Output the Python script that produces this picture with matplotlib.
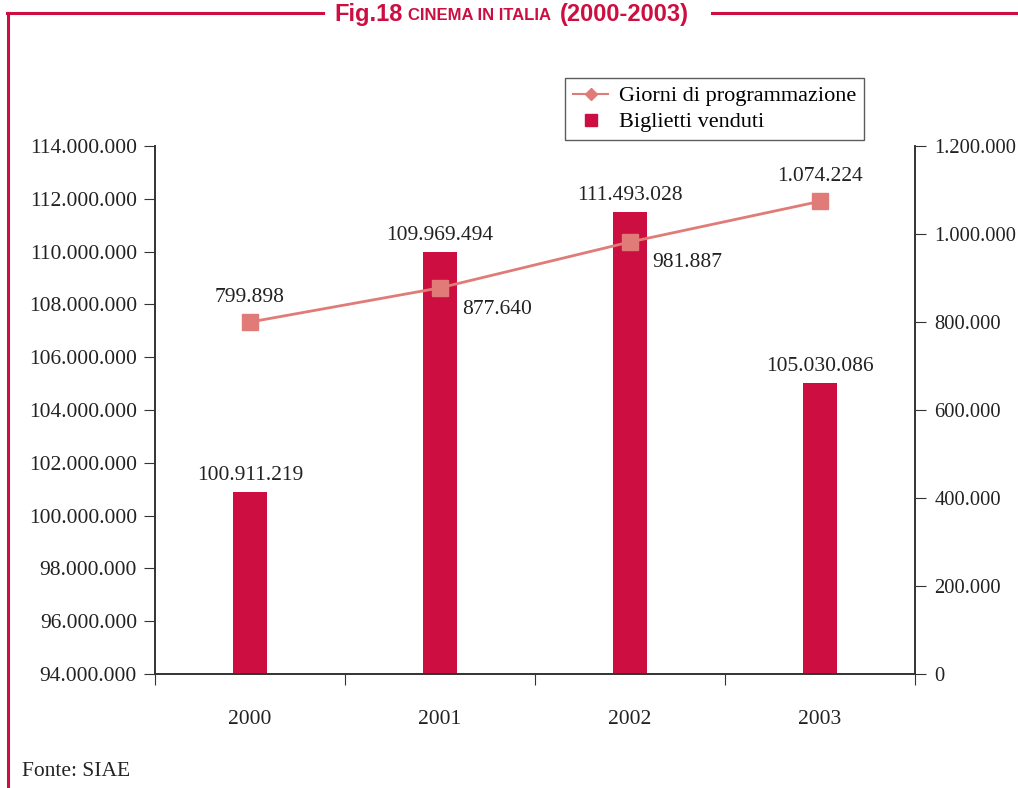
import matplotlib.pyplot as plt
from matplotlib.lines import Line2D
from matplotlib.ticker import FuncFormatter

# Data
anni = ["2000", "2001", "2002", "2003"]
biglietti = [100911219, 109969494, 111493028, 105030086]
giorni = [799898, 877640, 981887, 1074224]

bar_color = "#CC0E40"
line_color = "#E07B77"
frame_color = "#CC0E40"
serif = ["Liberation Serif", "DejaVu Serif"]
W, H = 1018, 788


def dotted(v, pos=None):
    return f"{int(round(v)):,}".replace(",", ".")


plt.rcParams["font.family"] = serif
fig = plt.figure(figsize=(W / 100, H / 100), dpi=100)
ax = fig.add_axes([155 / W, 1 - 674 / H, 760 / W, 528 / H])
ax2 = ax.twinx()

x = list(range(len(anni)))
ax.bar(x, biglietti, width=0.18, color=bar_color, zorder=2)
ax.set_xlim(-0.5, 3.5)
ax.set_ylim(94000000, 114000000)
ax.set_yticks(range(94000000, 114000001, 2000000))
ax.yaxis.set_major_formatter(FuncFormatter(dotted))
ax.set_xticks([-0.5, 0.5, 1.5, 2.5, 3.5])
ax.set_xticklabels([])
ax.set_xticks(x, minor=True)
ax.set_xticklabels(anni, minor=True)
ax.tick_params(axis="x", which="minor", length=0, pad=26, labelsize=15.5, colors="#222")
ax.tick_params(axis="x", which="major", length=8, direction="out", color="#333")
ax.tick_params(axis="y", length=8, direction="out", labelsize=15.5, colors="#222", color="#333", pad=5)

ax2.plot(x, giorni, color=line_color, lw=2, marker="s", ms=11, zorder=3)
ax2.set_ylim(0, 1200000)
ax2.set_yticks(range(0, 1200001, 200000))
ax2.yaxis.set_major_formatter(FuncFormatter(dotted))
ax2.tick_params(axis="y", length=8, direction="out", labelsize=14.8, colors="#222", color="#333", pad=6)

for a in (ax, ax2):
    a.spines["top"].set_visible(False)
    for s in ("left", "right", "bottom"):
        a.spines[s].set_color("#333")
        a.spines[s].set_linewidth(1.2)

# bar labels
for xi, v in zip(x, biglietti):
    ax.annotate(dotted(v), (xi, v), xytext=(0, 5), textcoords="offset points",
                ha="center", va="bottom", fontsize=15.5, color="#222")

# line labels
offsets = [(0, 11, "center", "bottom"), (16, -9, "left", "top"),
           (16, -8, "left", "top"), (0, 11, "center", "bottom")]
for xi, v, (dx, dy, ha, va) in zip(x, giorni, offsets):
    ax2.annotate(dotted(v), (xi, v), xytext=(dx, dy), textcoords="offset points",
                 ha=ha, va=va, fontsize=15.5, color="#222")

handles = [Line2D([], [], color=line_color, lw=1.5, marker="D", ms=6),
           Line2D([], [], color=bar_color, lw=0, marker="s", ms=8)]
leg = ax2.legend(handles, ["Giorni di programmazione", "Biglietti venduti"],
                 loc="upper left", bbox_to_anchor=(410 / 760, 1 + 68 / 528), fontsize=16,
                 frameon=True, fancybox=False, edgecolor="#333", handlelength=1.6,
                 handletextpad=0.5, borderpad=0.35, labelspacing=0.25, borderaxespad=0)
leg.get_frame().set_linewidth(1.0)

# frame lines
ly = 1 - 13 / H
fig.add_artist(Line2D([8 / W, 8 / W], [0.0, ly], color=frame_color, lw=2.2))
fig.add_artist(Line2D([7 / W, 323 / W], [ly, ly], color=frame_color, lw=2.2))
fig.add_artist(Line2D([712 / W, 1.0], [ly, ly], color=frame_color, lw=2.2))

# title pieces
title_font = ["Liberation Sans Narrow", "Liberation Sans", "DejaVu Sans"]
pieces = [("Fig.18", 17, 334), ("CINEMA IN ITALIA", 12, 408), ("(2000-2003)", 17, 560)]
for txt, size, px in pieces:
    fig.text(px / W, 1 - 15 / H, txt, fontsize=size, fontweight="bold",
             color=frame_color, family=title_font, va="center", ha="left")

fig.text(22 / W, 1 - 771 / H, "Fonte: SIAE", fontsize=15.5, color="#222", va="center")

fig.savefig("out.png", dpi=100)
